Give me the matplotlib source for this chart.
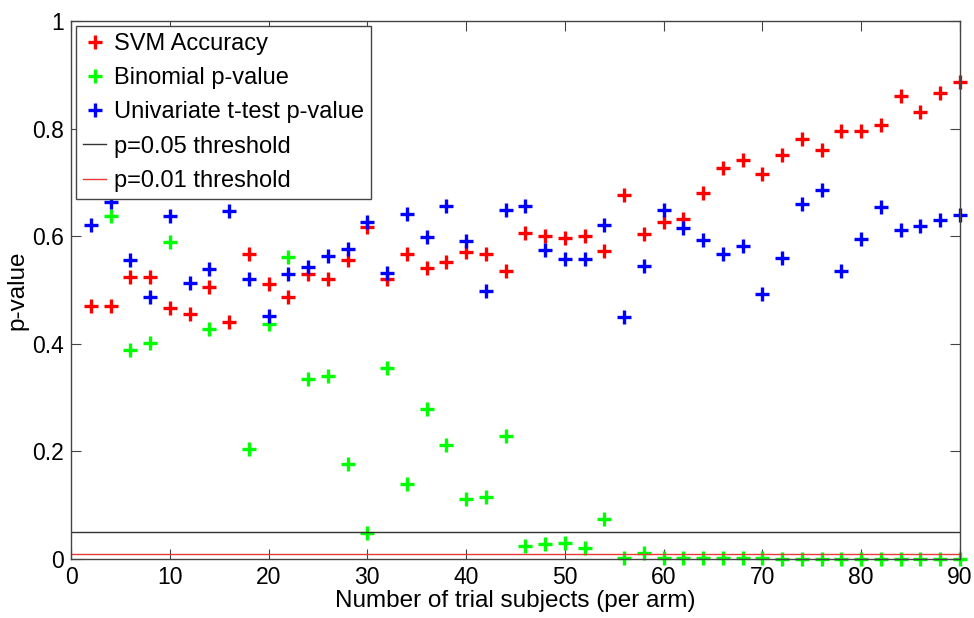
import matplotlib
matplotlib.use("Agg")
import matplotlib.pyplot as plt
import numpy as np

plt.rcParams['font.family'] = ['Liberation Sans', 'DejaVu Sans']

# number of trial subjects per arm
subjects = list(range(2, 92, 2))

svm_acc = [0.470, 0.470, 0.524, 0.524, 0.466, 0.455, 0.505, 0.441, 0.567, 0.511,
           0.487, 0.529, 0.520, 0.556, 0.617, 0.520, 0.567, 0.541, 0.552, 0.571,
           0.566, 0.536, 0.606, 0.600, 0.596, 0.600, 0.573, 0.677, 0.605, 0.626,
           0.632, 0.680, 0.727, 0.742, 0.716, 0.751, 0.781, 0.760, 0.796, 0.796,
           0.807, 0.861, 0.831, 0.866, 0.887]

# values at 2, 12, 16 sit behind the legend box in the original
binom_p = [0.90, 0.638, 0.389, 0.402, 0.589, 0.85, 0.427, 0.80, 0.204, 0.437,
           0.561, 0.335, 0.340, 0.176, 0.048, 0.355, 0.139, 0.279, 0.212, 0.111,
           0.116, 0.229, 0.025, 0.028, 0.030, 0.021, 0.075, 0.001, 0.011, 0.002,
           0.002, 0.001, 0.001, 0.001, 0.001, 0.0, 0.0, 0.0, 0.0, 0.0,
           0.0, 0.0, 0.0, 0.0, 0.0]

ttest_p = [0.621, 0.664, 0.556, 0.487, 0.638, 0.513, 0.539, 0.646, 0.520, 0.452,
           0.529, 0.542, 0.564, 0.577, 0.626, 0.532, 0.641, 0.598, 0.656, 0.592,
           0.498, 0.648, 0.656, 0.574, 0.557, 0.557, 0.620, 0.450, 0.545, 0.648,
           0.615, 0.593, 0.567, 0.582, 0.493, 0.559, 0.660, 0.686, 0.536, 0.594,
           0.655, 0.612, 0.619, 0.631, 0.639]

fig = plt.figure(figsize=(9.74, 6.18), dpi=100)
ax = fig.add_axes([0.0729, 0.0955, 0.9127, 0.8705])

mk = dict(linestyle='none', marker='+', markersize=10, markeredgewidth=2.4, clip_on=False)
ax.plot(subjects, svm_acc, color='#ff0000', label='SVM Accuracy', **mk)
ax.plot(subjects, binom_p, color='#00ff00', label='Binomial p-value', **mk)
ax.plot(subjects, ttest_p, color='#0000ff', label='Univariate t-test p-value', **mk)
ax.axhline(0.05, color='#333333', linewidth=1.0, label='p=0.05 threshold')
ax.axhline(0.01, color='#e83838', linewidth=1.0, label='p=0.01 threshold')

ax.set_xlim(0, 90)
ax.set_ylim(0, 1)
ax.set_xticks(range(0, 91, 10))
ax.set_yticks([0, 0.2, 0.4, 0.6, 0.8, 1])
ax.set_yticklabels(['0', '0.2', '0.4', '0.6', '0.8', '1'])
ax.tick_params(direction='in', top=True, right=True, length=7, width=0.8,
               color='#444444', labelsize=16.5, pad=5)
for s in ax.spines.values():
    s.set_color('#444444')
    s.set_linewidth(1.0)

ax.set_xlabel('Number of trial subjects (per arm)', fontsize=17.5, labelpad=1)
ax.set_ylabel('p-value', fontsize=17.5, labelpad=3)

leg = ax.legend(loc='upper left', fontsize=17, frameon=True, fancybox=False,
                framealpha=1, edgecolor='#444444', handlelength=1.0,
                handletextpad=0.3, borderaxespad=0.2, borderpad=0.3,
                labelspacing=0.52)
leg.get_frame().set_linewidth(1.0)
leg.set_zorder(5)

fig.savefig('out.png', dpi=100)
